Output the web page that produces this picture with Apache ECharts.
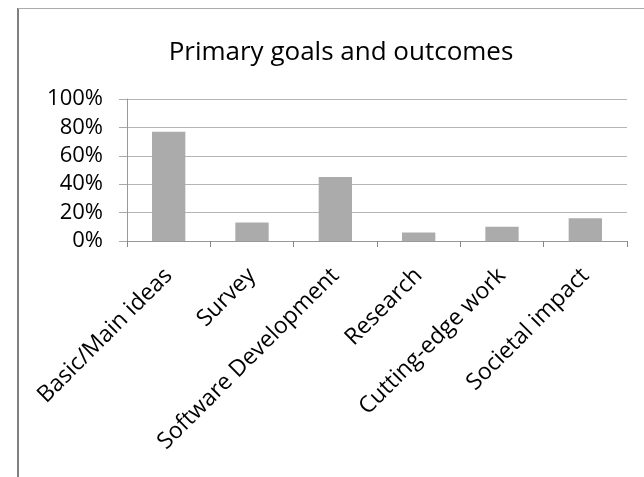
<!DOCTYPE html>
<html>
<head>
<meta charset="utf-8">
<script src="https://cdn.jsdelivr.net/npm/echarts@6/dist/echarts.min.js"></script>
<style>
html,body{margin:0;padding:0;background:#fff;}
#c{width:644px;height:477px;}
</style>
</head>
<body>
<div id="c"></div>
<script>
var titleText = 'Primary goals and outcomes';
var categories = ['Basic/Main ideas', 'Survey', 'Software Development', 'Research', 'Cutting-edge work', 'Societal impact'];
var values = [0.77, 0.13, 0.45, 0.06, 0.10, 0.16];
var yTicks = [0, 0.2, 0.4, 0.6, 0.8, 1.0];

var FONT = 'Open Sans';
var chart = echarts.init(document.getElementById('c'), null, {renderer: 'canvas'});
chart.setOption({
  animation: false,
  backgroundColor: '#fff',
  title: {
    text: titleText,
    left: 336, top: 35,
    textAlign: 'center',
    textStyle: {fontFamily: FONT, fontSize: 26, fontWeight: 'normal', color: '#000'}
  },
  graphic: [
    {type: 'line', shape: {x1: 18, y1: 8, x2: 18, y2: 477}, style: {stroke: '#555', lineWidth: 1.5}},
    {type: 'line', shape: {x1: 18, y1: 8.5, x2: 644, y2: 8.5}, style: {stroke: '#aaa', lineWidth: 1}}
  ],
  grid: {left: 127, right: 17, top: 99, bottom: 236},
  xAxis: {
    type: 'category',
    data: categories,
    axisLine: {lineStyle: {color: '#999', width: 1}},
    axisTick: {show: true, alignWithLabel: false, length: 6, lineStyle: {color: '#888'}},
    axisLabel: {rotate: 45, interval: 0, margin: 31, fontFamily: FONT, fontSize: 23, color: '#000'}
  },
  yAxis: {
    type: 'value',
    min: yTicks[0], max: yTicks[yTicks.length - 1], interval: 0.2,
    axisLine: {show: true, lineStyle: {color: '#999', width: 1}},
    axisTick: {show: true, length: 8, lineStyle: {color: '#aaa'}},
    splitLine: {show: true, lineStyle: {color: '#b5b5b5', width: 1}},
    axisLabel: {
      margin: 24, fontFamily: FONT, fontSize: 22, color: '#000',
      formatter: function (v) { return Math.round(v * 100) + '%'; }
    }
  },
  series: [{
    type: 'bar',
    data: values,
    barWidth: '40%',
    itemStyle: {color: '#ababab'}
  }]
});
</script>
</body>
</html>
